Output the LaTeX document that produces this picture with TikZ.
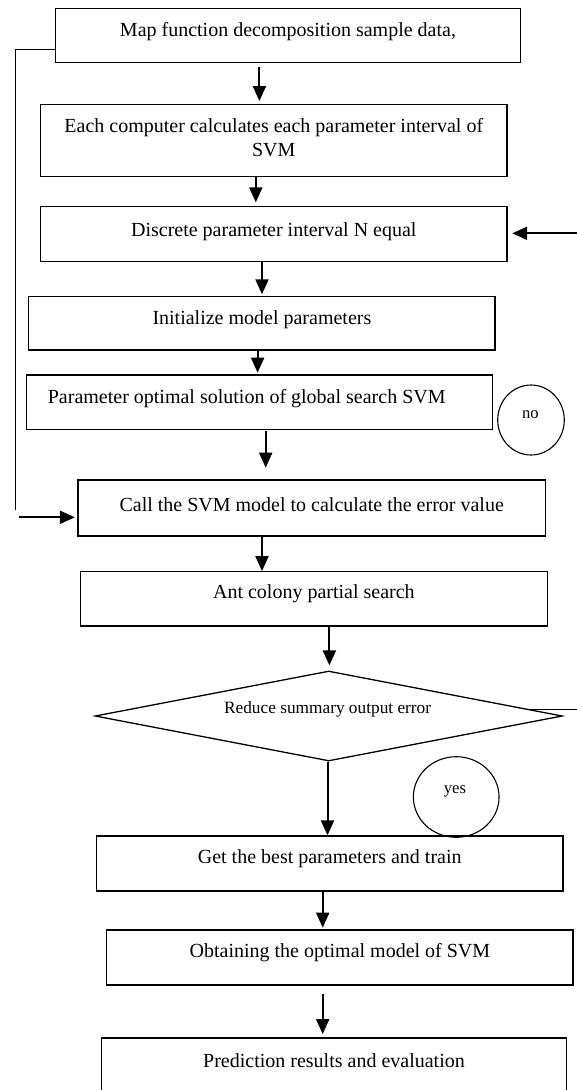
\documentclass[tikz,border=0pt]{standalone}
\usepackage{fontspec}
\setmainfont{Liberation Serif}
\usetikzlibrary{arrows.meta,shapes.geometric,calc}
\begin{document}
\begin{tikzpicture}[x=1pt,y=-1pt,
  box/.style={draw,line width=1.3pt,inner sep=0pt},
  txt/.style={font=\fontsize{20}{23.4}\selectfont,inner sep=0pt,align=center},
  small/.style={font=\fontsize{17.3}{20}\selectfont,inner sep=0pt},
  lbl/.style={font=\fontsize{16.6}{19}\selectfont,inner sep=0pt},
  oval/.style={draw,ellipse,line width=1.1pt,inner sep=0pt},
  arr/.style={line width=2pt,-{Triangle[width=13pt,length=15pt]}},
  plain/.style={line width=1.3pt}
]
\clip (0,0) rectangle (577,1090);
% boxes
\node[box,minimum width=465.5pt,minimum height=54pt] (b1) at (288,35.3) {};
\node[txt] (t1) at (288,31.7) {Map function decomposition sample data,};
\node[box,minimum width=466.5pt,minimum height=72.4pt] (b2) at (273.8,140.5) {};
\node[txt] (t2) at (273.8,137.5) {Each computer calculates each parameter interval of\\SVM};
\node[box,minimum width=466.5pt,minimum height=55pt] (b3) at (273.8,234.2) {};
\node[txt] (t3) at (273.8,231.7) {Discrete parameter interval N equal};
\node[box,minimum width=466.3pt,minimum height=53.3pt] (b4) at (261.9,323.3) {};
\node[txt] (t4) at (261.9,320) {Initialize model parameters};
\node[box,minimum width=465.9pt,minimum height=54.3pt] (b5) at (259.5,402.2) {};
\node[txt] (t5) at (246.7,399) {Parameter optimal solution of global search SVM};
\node[box,minimum width=467.4pt,minimum height=56pt] (b6) at (311.7,508) {};
\node[txt] (t6) at (311.7,505) {Call the SVM model to calculate the error value};
\node[box,minimum width=467.4pt,minimum height=54.3pt] (b7) at (313.9,598.9) {};
\node[txt] (t7) at (313.9,594) {Ant colony partial search};
\node[draw,diamond,line width=1.3pt,inner sep=0pt,minimum width=467.3pt,minimum height=90pt] (d) at (328.7,716) {};
\node[small] (dt) at (327.6,709.3) {Reduce summary output error};
\node[box,minimum width=466.6pt,minimum height=55pt] (b8) at (329.7,863.5) {};
\node[txt] (t8) at (329.7,859) {Get the best parameters and train};
\node[box,minimum width=466.3pt,minimum height=55pt] (b9) at (339.9,957.5) {};
\node[txt] (t9) at (339.9,953) {Obtaining the optimal model of SVM};
\node[box,minimum width=465.5pt,minimum height=64pt] (b10) at (334,1070) {};
\node[txt] (t10) at (334,1061) {Prediction results and evaluation};
% circles
\node[oval,minimum width=66.6pt,minimum height=70pt] (no) at (531,420) {};
\node[lbl] (not) at (530.3,415) {no};
\node[oval,minimum width=85.7pt,minimum height=80.6pt] (yes) at (456.2,797) {};
\node[lbl] (yest) at (455,791.5) {yes};
% x positions of vertical arrows
\coordinate (x1) at (259.4,0);
\coordinate (x2) at (255.8,0);
\coordinate (x3) at (262,0);
\coordinate (x4) at (257.6,0);
\coordinate (x5) at (265.7,0);
\coordinate (x6) at (262,0);
\coordinate (x7) at (329.4,0);
\coordinate (x8) at (327.5,0);
\coordinate (x9) at (322.7,0);
% vertical arrows
\draw[arr,shorten <=4.4pt,shorten >=2.6pt] (x1 |- b1.south) -- (x1 |- b2.north);
\draw[arr,shorten >=3.7pt] (x2 |- b2.south) -- (x2 |- b3.north);
\draw[arr,shorten >=1.7pt] (x3 |- b3.south) -- (x3 |- b4.north);
\draw[arr,shorten >=1.7pt] (x4 |- b4.south) -- (x4 |- b5.north);
\draw[arr,shorten <=1.4pt,shorten >=11.7pt] (x5 |- b5.south) -- (x5 |- b6.north);
\draw[arr] (x6 |- b6.south) -- (x6 |- b7.north);
\draw[arr,shorten >=5pt] (x7 |- b7.south) -- (x7 |- d.north);
\draw[arr] (x8 |- d.south) -- (x8 |- b8.north);
\draw[arr,shorten >=1.7pt] (x9 |- b8.south) -- (x9 |- b9.north);
\draw[arr,shorten <=8.3pt,shorten >=3.3pt] (x9 |- b9.south) -- (x9 |- b10.north);
% feedback line on the left
\coordinate (fbtop) at (15.5,49.3);
\coordinate (fbbot) at (15.5,510);
\draw[plain] (b1.west |- fbtop) -- (fbtop) -- (fbbot);
\coordinate (fbin) at (19,517.3);
\draw[arr,shorten >=2.5pt] (fbin) -- (fbin -| b6.west);
% arrow from the right into box 3
\coordinate (rin) at (577,233.3);
\draw[arr,shorten >=4.5pt] (rin) -- (rin -| b3.east);
% line out of the diamond to the right
\coordinate (dout) at (577,709.3);
\draw[plain] ($(d.north)!0.85!(d.east)$) coordinate (dp) -- (dp -| dout);
\end{tikzpicture}
\end{document}
